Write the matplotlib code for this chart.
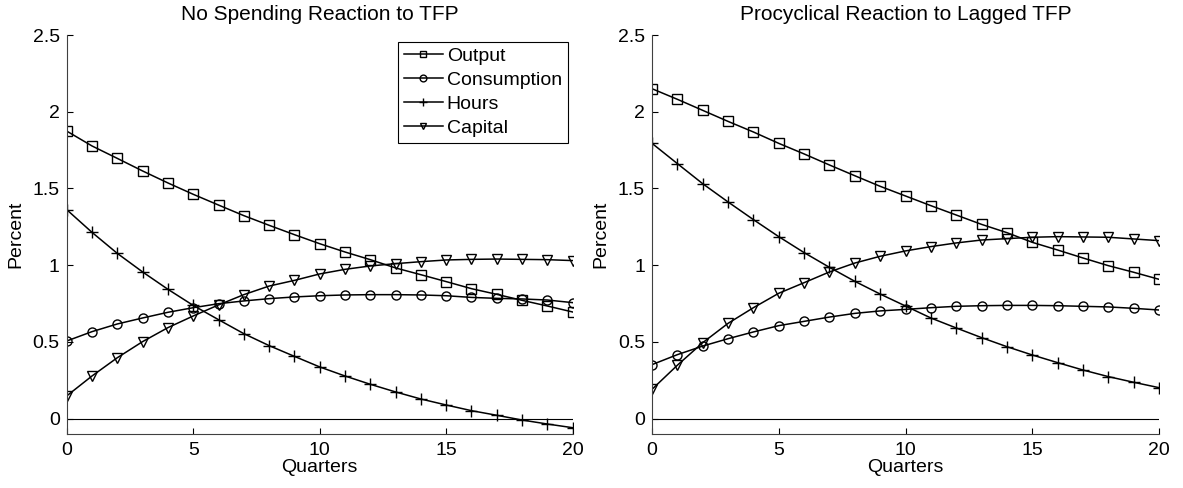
import numpy as np
import matplotlib.pyplot as plt

plt.rcParams['font.family'] = ['Liberation Sans', 'DejaVu Sans']
plt.rcParams['font.size'] = 14

quarters = np.arange(21)

# left panel: no spending reaction to TFP
out_l = [1.874, 1.777, 1.696, 1.614, 1.536, 1.462, 1.392, 1.323, 1.260, 1.199, 1.140,
         1.086, 1.036, 0.982, 0.938, 0.893, 0.847, 0.810, 0.771, 0.734, 0.695]
cons_l = [0.506, 0.567, 0.617, 0.656, 0.693, 0.723, 0.749, 0.767, 0.782, 0.793, 0.801,
          0.806, 0.808, 0.808, 0.806, 0.801, 0.790, 0.784, 0.780, 0.773, 0.756]
hours_l = [1.362, 1.214, 1.077, 0.956, 0.843, 0.738, 0.645, 0.554, 0.476, 0.406, 0.337,
           0.278, 0.224, 0.174, 0.128, 0.089, 0.052, 0.022, -0.009, -0.035, -0.059]
cap_l = [0.148, 0.278, 0.397, 0.502, 0.593, 0.669, 0.741, 0.808, 0.864, 0.901, 0.943,
         0.973, 0.995, 1.010, 1.023, 1.034, 1.038, 1.040, 1.038, 1.036, 1.030]

# right panel: procyclical reaction to lagged TFP
out_r = [2.150, 2.081, 2.009, 1.937, 1.868, 1.794, 1.725, 1.653, 1.583, 1.514, 1.451,
         1.388, 1.327, 1.266, 1.212, 1.149, 1.099, 1.047, 0.997, 0.954, 0.908]
cons_r = [0.352, 0.417, 0.473, 0.521, 0.565, 0.606, 0.634, 0.662, 0.686, 0.702, 0.712,
          0.723, 0.732, 0.736, 0.738, 0.738, 0.736, 0.732, 0.728, 0.719, 0.708]
hours_r = [1.794, 1.662, 1.531, 1.412, 1.297, 1.186, 1.082, 0.986, 0.895, 0.812, 0.734,
           0.656, 0.591, 0.528, 0.469, 0.415, 0.365, 0.317, 0.274, 0.237, 0.202]
cap_r = [0.191, 0.348, 0.495, 0.621, 0.723, 0.817, 0.886, 0.956, 1.014, 1.058, 1.093,
         1.121, 1.145, 1.164, 1.173, 1.182, 1.186, 1.184, 1.182, 1.171, 1.160]

titles = ["No Spending Reaction to TFP", "Procyclical Reaction to Lagged TFP"]
names = ["Output", "Consumption", "Hours", "Capital"]
markers = ["s", "o", "+", "v"]

fig = plt.figure(figsize=(11.83, 4.88), dpi=100)
ax1 = fig.add_axes([66.7 / 1183, 54 / 488, 506 / 1183, 399 / 488])
ax2 = fig.add_axes([652 / 1183, 54 / 488, 507 / 1183, 399 / 488])

panels = [(ax1, [out_l, cons_l, hours_l, cap_l]), (ax2, [out_r, cons_r, hours_r, cap_r])]
for i, (ax, series) in enumerate(panels):
    for y, name, m in zip(series, names, markers):
        ax.plot(quarters, y, color="k", lw=1.1, marker=m, ms=6.5 if m != "+" else 8,
                mfc="none", mec="k", mew=1.0, label=name)
    ax.axhline(0, color="k", lw=0.8)
    ax.set_xlim(0, 20)
    ax.set_ylim(-0.1, 2.5)
    ax.set_xticks([0, 5, 10, 15, 20])
    ax.set_yticks([0, 0.5, 1, 1.5, 2, 2.5])
    ax.set_yticklabels(["0", "0.5", "1", "1.5", "2", "2.5"])
    ax.spines["top"].set_visible(False)
    ax.spines["right"].set_visible(False)
    ax.spines["left"].set_color("0.25")
    ax.spines["bottom"].set_color("0.25")
    ax.tick_params(direction="in", length=4, colors="k", pad=5)
    ax.tick_params(axis="x", pad=6)
    ax.set_title(titles[i], fontsize=15, pad=11)
    ax.set_xlabel("Quarters", labelpad=0)
    ax.set_ylabel("Percent", labelpad=6)

leg = ax1.legend(loc="upper right", bbox_to_anchor=(0.99, 0.983), handlelength=2.0,
                 handletextpad=0.2, borderpad=0.3, labelspacing=0.32, fancybox=False,
                 framealpha=1, edgecolor="k", borderaxespad=0.0, markerscale=0.75)
leg.get_frame().set_linewidth(0.8)

plt.savefig("out.png", dpi=100)
